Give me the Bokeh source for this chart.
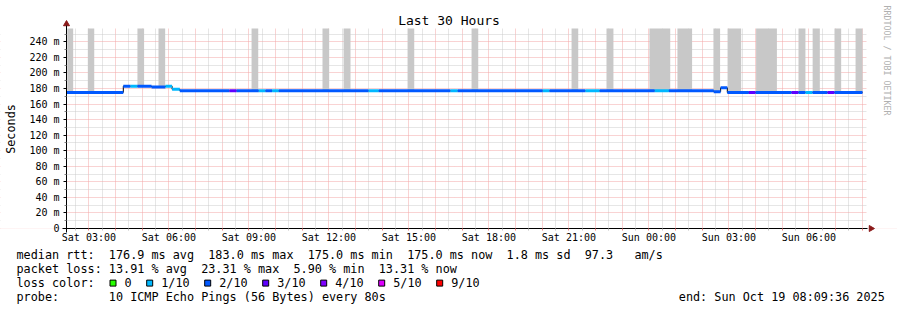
import math
from bokeh.plotting import figure
from bokeh.models import Range1d, FixedTicker
from bokeh.embed import file_html
from bokeh.resources import INLINE
from bokeh.core.properties import value

FONT = "DejaVu Sans Mono"
NB = "\u00a0"

# ---------------- data ----------------
title_text = "Last 30 Hours"
y_label = "Seconds"
watermark = "RRDTOOL / TOBI OETIKER"

# time axis in hours since Sat 00:00
x_start_h = 2.16   # Sat 02:09:36
x_end_h = 32.16    # Sun 08:09:36
y_max = 257.2      # ms

tick_hours = list(range(3, 33))
minor_hours = [2.5, 3.5, 4.5, 5.5, 6.5, 7.5, 8.5, 9.5, 10.5, 11.5, 12.5, 13.5, 14.5, 15.5,
               16.5, 17.5, 18.5, 19.5, 20.5, 21.5, 22.5, 23.5, 24.5, 25.5, 26.5, 27.5, 28.5,
               29.5, 30.5, 31.5]
label_hours = [3, 6, 9, 12, 15, 18, 21, 24, 27, 30]
label_text = ["Sat 03:00", "Sat 06:00", "Sat 09:00", "Sat 12:00", "Sat 15:00",
              "Sat 18:00", "Sat 21:00", "Sun 00:00", "Sun 03:00", "Sun 06:00"]

y_major = [0, 20, 40, 60, 80, 100, 120, 140, 160, 180, 200, 220, 240]
y_minor = [10, 30, 50, 70, 90, 110, 130, 150, 170, 190, 210, 230, 250]
y_major_labels = ["0", "20 m", "40 m", "60 m", "80 m", "100 m", "120 m", "140 m",
                  "160 m", "180 m", "200 m", "220 m", "240 m"]

# smoke (grey) bars
smoke_start = [2.19, 2.96, 4.82, 5.61, 9.10, 11.76, 12.55, 14.95, 17.35, 21.10, 22.41,
               24.02, 25.07, 26.42, 26.95, 28.02, 29.61, 30.14, 30.96, 31.75]
smoke_end = [2.41, 3.20, 5.07, 5.86, 9.35, 12.01, 12.81, 15.20, 17.60, 21.35, 22.67,
             24.80, 25.62, 26.67, 27.46, 28.80, 29.87, 30.41, 31.21, 32.01]
smoke_lo = [175, 175, 183, 182, 177, 177, 177, 177, 177, 177, 177,
            177, 177, 176, 175, 175, 175, 175, 175, 175]

# median rtt segments (ms) with loss bucket index
seg_start = [2.16, 4.29, 4.56, 4.82, 5.35, 5.87, 6.12, 6.41, 8.27, 8.54, 9.37, 9.62,
             9.87, 10.12, 13.49, 13.87, 16.56, 16.83, 20.02, 20.27, 21.62, 22.15,
             24.22, 24.75, 26.43, 26.69, 26.94, 27.75, 28.00, 29.35, 29.61, 29.87,
             30.14, 30.70, 30.96]
seg_end = seg_start[1:] + [32.01]
seg_rtt = [175, 183, 183, 183, 182, 183, 179, 177, 177, 177, 177, 177, 177, 177, 177,
           177, 177, 177, 177, 177, 177, 177, 177, 177, 176, 181, 175, 175, 175, 175,
           175, 175, 175, 175, 175]
seg_loss = [2, 2, 1, 2, 2, 1, 1, 2, 3, 2, 1, 2, 1, 2, 1, 2, 1, 2, 1, 2, 1, 2, 1, 2,
            2, 2, 2, 3, 2, 3, 2, 1, 2, 3, 2]

loss_title = "loss color:"
loss_labels = ["0", "1/10", "2/10", "3/10", "4/10", "5/10", "9/10"]
loss_colors = ["#26ff00", "#00b8ff", "#0059ff", "#5e00ff", "#7e00ff", "#dd00ff", "#ff0000"]

rtt_stats = [176.9, 183.0, 175.0, 175.0]
rtt_sd = 1.8
rtt_ams = 97.3
loss_stats = [13.91, 23.31, 5.90, 13.31]
probe_text = "10 ICMP Echo Pings (56 Bytes) every 80s"
end_text = "end: Sun Oct 19 08:09:36 2025"

# ---------------- layout ----------------
W, H = 897, 310
FL, FT, FW, FH = 66, 28, 800, 200      # rrd graph area inside the canvas
TXT_X = 16
CW = 7.1
ROW_Y = [254.3, 268.3, 282.2, 296.2]
BOX_Y = 282.6
ARROW_COL = "#8b1a1a"
FS = "11.8px"

XS = (x_end_h - x_start_h) / FW      # hours per pixel
YS = y_max / FH                       # ms per pixel


def px2x(px):
    return x_start_h + (px - FL) * XS


def py2y(py):
    return (FT + FH - py) * YS


X0, X1 = px2x(0), px2x(W)
Y0, Y1 = py2y(H), py2y(0)

p = figure(frame_width=W, frame_height=H, x_range=Range1d(X0, X1), y_range=Range1d(Y0, Y1),
           min_border=0, output_backend="svg", toolbar_location=None, tools="")
p.background_fill_color = "white"
p.border_fill_color = "white"
p.outline_line_color = None

xt = FixedTicker(ticks=tick_hours, minor_ticks=minor_hours)
yt = FixedTicker(ticks=y_major, minor_ticks=y_minor)

xa = p.xaxis[0]
xa.fixed_location = 0
xa.bounds = (px2x(62), px2x(867))
xa.ticker = xt
lab = dict(zip(label_hours, label_text))
xa.major_label_overrides = {h: lab.get(h, "") for h in tick_hours}
xa.major_label_text_font = FONT
xa.major_label_text_font_size = "10px"
xa.major_label_text_color = "black"
xa.major_tick_out = 2
xa.major_tick_in = 0
xa.major_tick_line_color = "#f08080"
xa.minor_tick_out = 2
xa.minor_tick_in = 0
xa.minor_tick_line_color = "#c0c0c0"
xa.axis_line_color = "black"
xa.major_label_standoff = 1

ya = p.yaxis[0]
ya.fixed_location = x_start_h
ya.bounds = (py2y(232), py2y(25))
ya.ticker = yt
ya.major_label_overrides = dict(zip(y_major, y_major_labels))
ya.major_label_text_font = FONT
ya.major_label_text_font_size = "10px"
ya.major_label_text_color = "black"
ya.major_tick_out = 3
ya.major_tick_in = 0
ya.major_tick_line_color = "black"
ya.minor_tick_out = 2
ya.minor_tick_in = 0
ya.minor_tick_line_color = "#808080"
ya.axis_line_color = "black"
ya.major_label_standoff = 4
ya.axis_label = y_label
ya.axis_label_text_font = FONT
ya.axis_label_text_font_size = FS
ya.axis_label_text_font_style = "normal"
ya.axis_label_text_color = "black"
ya.axis_label_standoff = 8

for g, t in ((p.xgrid[0], xt), (p.ygrid[0], yt)):
    g.ticker = t
    g.grid_line_color = "#f2a6a6"
    g.grid_line_dash = "1 1"
    g.minor_grid_line_color = "#cccccc"
    g.minor_grid_line_dash = "1 1"

# white covers: keep the grid inside the graph area only
p.quad(left=[X0, X0, X0, x_end_h], right=[X1, X1, x_start_h, X1],
       bottom=[y_max, Y0, 0, 0], top=[Y1, 0, y_max, y_max],
       fill_color="white", line_color=None)

# smoke
p.quad(left=smoke_start, right=smoke_end, bottom=smoke_lo,
       top=[y_max] * len(smoke_start), fill_color="#c8c8c8", line_color=None)

# black step line under the coloured median
sx, sy = [], []
for a, b, r in zip(seg_start, seg_end, seg_rtt):
    sx += [a, b]
    sy += [r, r]
p.line(sx, sy, line_color="black", line_width=1)

p.segment(x0=seg_start, x1=seg_end, y0=seg_rtt, y1=seg_rtt,
          line_color=[loss_colors[i] for i in seg_loss], line_width=3)

# axis arrow heads
p.scatter(x=[x_start_h, px2x(870.5)], y=[py2y(23.5), 0], marker="triangle", size=6,
          angle=[0, -math.pi / 2], fill_color=ARROW_COL, line_color=ARROW_COL)

# title and watermark
p.text(x=[px2x(448.5)], y=[py2y(19.5)], text=[title_text], text_font=value(FONT),
       text_font_size=value("13px"), text_align="center", text_baseline="middle",
       text_color="black")
p.text(x=[px2x(886)], y=[py2y(5)], text=[watermark], text_font=value(FONT),
       text_font_size=value("8.3px"), text_align="left", text_baseline="middle",
       text_color="#b0b0b0", angle=-math.pi / 2)

# ---------------- legend text ----------------
row1 = ("median rtt:  %.1f ms avg  %.1f ms max  %.1f ms min  %.1f ms now  %.1f ms sd  %.1f   am/s"
        % (rtt_stats[0], rtt_stats[1], rtt_stats[2], rtt_stats[3], rtt_sd, rtt_ams))
row2 = ("packet loss: %.2f %% avg  %.2f %% max  %.2f %% min  %.2f %% now"
        % tuple(loss_stats))
row4 = "probe:       " + probe_text
rows = [r.replace(" ", NB) for r in (row1, row2, loss_title, row4)]

p.text(x=[px2x(TXT_X)] * 4, y=[py2y(v) for v in ROW_Y], text=rows,
       text_font=value(FONT), text_font_size=value(FS),
       text_baseline="middle", text_align="left", text_color="black")
p.text(x=[px2x(678.3)], y=[py2y(ROW_Y[3])], text=[end_text.replace(" ", NB)],
       text_font=value(FONT), text_font_size=value(FS),
       text_baseline="middle", text_align="left", text_color="black")

bx, tx = [], []
cx = 109.0
for labl in loss_labels:
    bx.append(px2x(cx + 3.5))
    tx.append(px2x(cx + 15))
    cx = cx + 15 + len(labl) * CW + 14.6
p.scatter(x=bx, y=[py2y(BOX_Y)] * len(bx), marker="square", size=6,
          fill_color=loss_colors, line_color="black", line_width=1)
p.text(x=tx, y=[py2y(ROW_Y[2])] * len(tx), text=loss_labels,
       text_font=value(FONT), text_font_size=value(FS),
       text_baseline="middle", text_align="left", text_color="black")

open("out.html", "w").write(file_html(p, INLINE))
